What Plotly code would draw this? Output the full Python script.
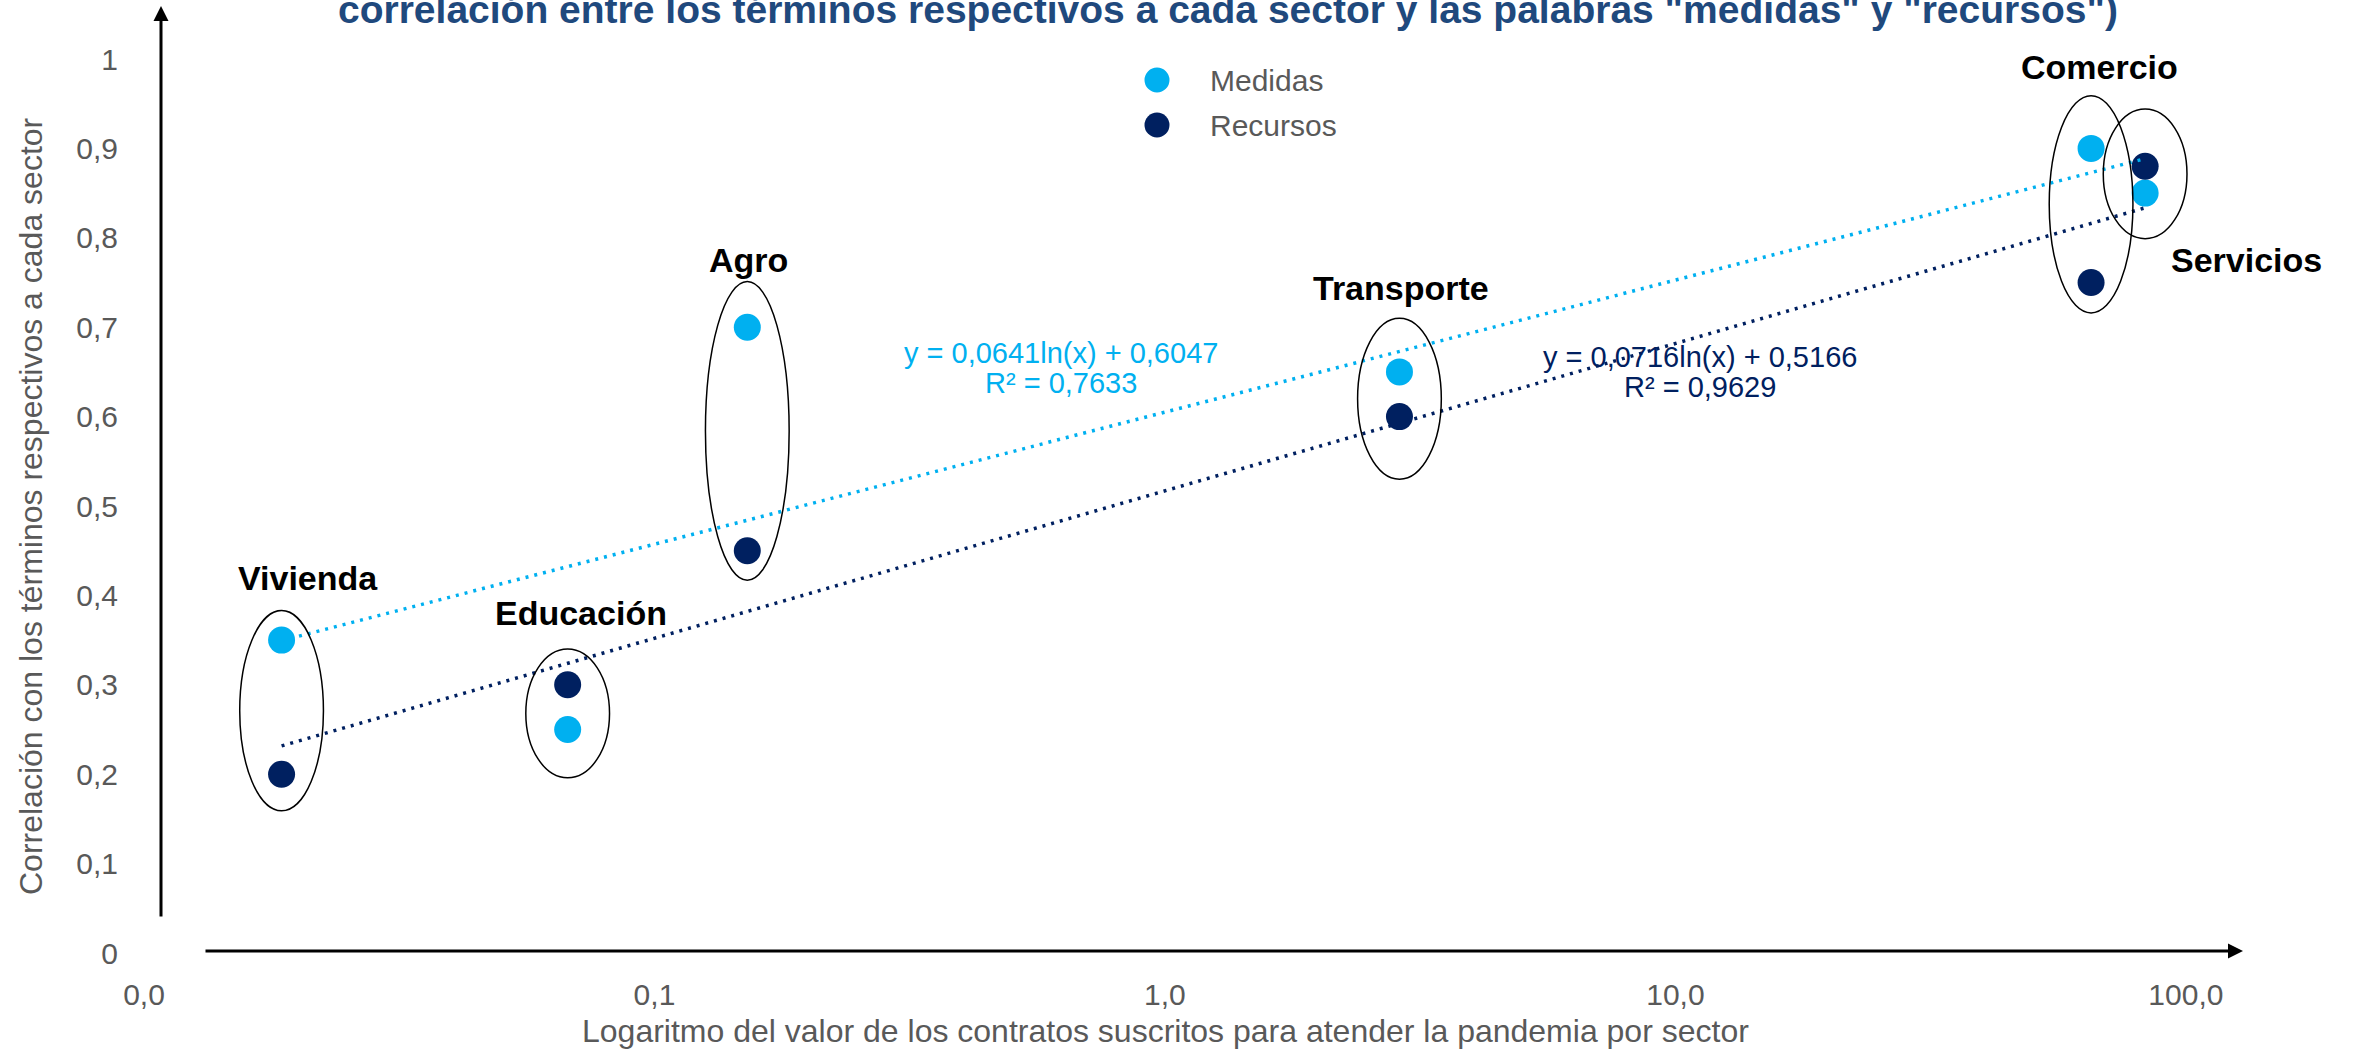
'''
    Dispersión log: correlación de términos por sector vs valor de contratos.
'''
import numpy as np
import plotly.graph_objects as go

FONT = "Arial, 'Liberation Sans', sans-serif"
GRIS = "#595959"
CELESTE = "#00B0F0"
AZUL = "#002060"

SECTORES = ["Vivienda", "Educación", "Agro", "Transporte", "Comercio", "Servicios"]
VALOR_CONTRATOS = [0.0186, 0.0676, 0.152, 2.88, 65.2, 83.2]
MEDIDAS = [0.35, 0.25, 0.70, 0.65, 0.90, 0.85]
RECURSOS = [0.20, 0.30, 0.45, 0.60, 0.75, 0.88]

X_TICKS = [0.01, 0.1, 1, 10, 100]
X_TICK_TEXT = ["0,0", "0,1", "1,0", "10,0", "100,0"]
Y_TICKS = [0, 0.1, 0.2, 0.3, 0.4, 0.5, 0.6, 0.7, 0.8, 0.9, 1]
Y_TICK_TEXT = ["0", "0,1", "0,2", "0,3", "0,4", "0,5", "0,6", "0,7", "0,8", "0,9", "1"]

EQ_MEDIDAS = ["y = 0,0641ln(x) + 0,6047", "R² = 0,7633"]
EQ_RECURSOS = ["y = 0,0716ln(x) + 0,5166", "R² = 0,9629"]

TITULO = ('correlación entre los términos respectivos a cada sector y las palabras '
          '"medidas" y "recursos")')
TITULO_X = "Logaritmo del valor de los contratos suscritos para atender la pandemia por sector"
TITULO_Y = "Correlación con los términos respectivos a cada sector"

# posiciones de las etiquetas de sector (log10 x, y) y holgura de las elipses
LABEL_POS = {
    "Vivienda": (-1.679, 0.420), "Educación": (-1.144, 0.380), "Agro": (-0.815, 0.775),
    "Transporte": (0.462, 0.744), "Comercio": (1.830, 0.991), "Servicios": (2.118, 0.775),
}
ELLIPSE_PAD = {
    "Vivienda": (0.041, 0.033), "Educación": (0.054, 0.040), "Agro": (0.033, 0.051),
    "Transporte": (0.070, 0.060), "Comercio": (0.034, 0.059), "Servicios": (0.051, 0.064),
}
ELLIPSE_HALF_W = 0.082  # en décadas

# geometría del área de trazado (px)
W, H = 2354, 1051
LEFT, TOP, PLOT_H = 144, 59, 894
X_RANGE = [-2, 2.2]
PLOT_W = 2144
RIGHT = W - LEFT - PLOT_W
BOTTOM = H - TOP - PLOT_H


def px_x(px):
    return (px - LEFT) / PLOT_W


def px_y(py):
    return (TOP + PLOT_H - py) / PLOT_H


def trendline(x, y):
    '''Ajuste logarítmico como el de Excel: y = a ln(x) + b.'''
    a, b = np.polyfit(np.log(x), y, 1)
    xs = np.geomspace(min(x), max(x), 200)
    return xs, a * np.log(xs) + b


fig = go.Figure()

for name, vals, color in [("Medidas", MEDIDAS, CELESTE), ("Recursos", RECURSOS, AZUL)]:
    fig.add_trace(go.Scatter(
        x=VALOR_CONTRATOS, y=vals, mode="markers", name=name,
        marker=dict(size=27, color=color),
    ))

for vals, color in [(MEDIDAS, CELESTE), (RECURSOS, AZUL)]:
    xs, ys = trendline(np.array(VALOR_CONTRATOS), np.array(vals))
    fig.add_trace(go.Scatter(
        x=xs, y=ys, mode="lines", showlegend=False, hoverinfo="skip",
        line=dict(color=color, width=3.5, dash="3px,6px"),
    ))

# elipses alrededor de cada sector
for i, sector in enumerate(SECTORES):
    pad_lo, pad_hi = ELLIPSE_PAD[sector]
    xc = VALOR_CONTRATOS[i]
    fig.add_shape(
        type="circle", xref="x", yref="y",
        x0=xc * 10 ** -ELLIPSE_HALF_W, x1=xc * 10 ** ELLIPSE_HALF_W,
        y0=min(MEDIDAS[i], RECURSOS[i]) - pad_lo, y1=max(MEDIDAS[i], RECURSOS[i]) + pad_hi,
        line=dict(color="black", width=1.5),
    )
    lx, ly = LABEL_POS[sector]
    fig.add_annotation(
        x=lx, y=ly, xref="x", yref="y", text=f"<b>{sector}</b>", showarrow=False,
        font=dict(family=FONT, size=34, color="black"),
    )

# ecuaciones de las líneas de tendencia
for lines, color, ex, ey in [(EQ_MEDIDAS, CELESTE, -0.204, 0.671),
                             (EQ_RECURSOS, AZUL, 1.048, 0.667)]:
    for k, txt in enumerate(lines):
        fig.add_annotation(
            x=ex, y=ey - k * 0.0335, xref="x", yref="y", text=txt, showarrow=False,
            font=dict(family=FONT, size=29, color=color),
        )

# leyenda manual
for k, (name, color) in enumerate([("Medidas", CELESTE), ("Recursos", AZUL)]):
    yp = px_y(80 + k * 45)
    fig.add_shape(
        type="circle", xref="paper", yref="paper", xsizemode="pixel", ysizemode="pixel",
        xanchor=px_x(1157), yanchor=yp, x0=-12.5, x1=12.5, y0=-12.5, y1=12.5,
        fillcolor=color, line=dict(width=0),
    )
    fig.add_annotation(
        x=px_x(1208), y=yp, xref="paper", yref="paper", text=name, showarrow=False,
        xanchor="left", yanchor="middle", font=dict(family=FONT, size=30, color=GRIS),
    )

# flechas de los ejes
fig.add_annotation(x=px_x(161), y=px_y(6), xref="paper", yref="paper", text="",
                   showarrow=True, ax=0, ay=912, arrowhead=2, arrowsize=1,
                   arrowwidth=3, arrowcolor="black")
fig.add_annotation(x=px_x(2243), y=px_y(951), xref="paper", yref="paper", text="",
                   showarrow=True, ax=-2039, ay=0, arrowhead=2, arrowsize=1,
                   arrowwidth=3, arrowcolor="black")

# títulos
fig.add_annotation(x=px_x(1228), y=px_y(9), xref="paper", yref="paper", text=f"<b>{TITULO}</b>",
                   showarrow=False, yanchor="middle",
                   font=dict(family=FONT, size=39, color="#1F497D"))
fig.add_annotation(x=px_x(1165), y=px_y(1031), xref="paper", yref="paper", text=TITULO_X,
                   showarrow=False, yanchor="middle", font=dict(family=FONT, size=32, color=GRIS))
fig.add_annotation(x=px_x(31), y=px_y(506), xref="paper", yref="paper", text=TITULO_Y,
                   showarrow=False, textangle=-90, xanchor="center",
                   font=dict(family=FONT, size=32, color=GRIS))

fig.update_layout(
    width=W, height=H,
    margin=dict(l=LEFT, r=RIGHT, t=TOP, b=BOTTOM),
    paper_bgcolor="white", plot_bgcolor="white",
    showlegend=False,
    font=dict(family=FONT, size=30, color=GRIS),
    xaxis=dict(
        type="log", range=X_RANGE, tickvals=X_TICKS, ticktext=X_TICK_TEXT,
        showgrid=False, zeroline=False, showline=False, ticks="",
        ticklabelstandoff=21, tickfont=dict(size=30, color=GRIS),
    ),
    yaxis=dict(
        range=[0, 1], tickvals=Y_TICKS, ticktext=Y_TICK_TEXT,
        showgrid=False, zeroline=False, showline=False, ticks="",
        ticklabelstandoff=25, tickfont=dict(size=30, color=GRIS),
    ),
)

# sin margen del body para que la figura ocupe la ventana exacta
fig.write_html("out.html", config={"displayModeBar": False},
               post_script="document.body.style.margin='0';")
